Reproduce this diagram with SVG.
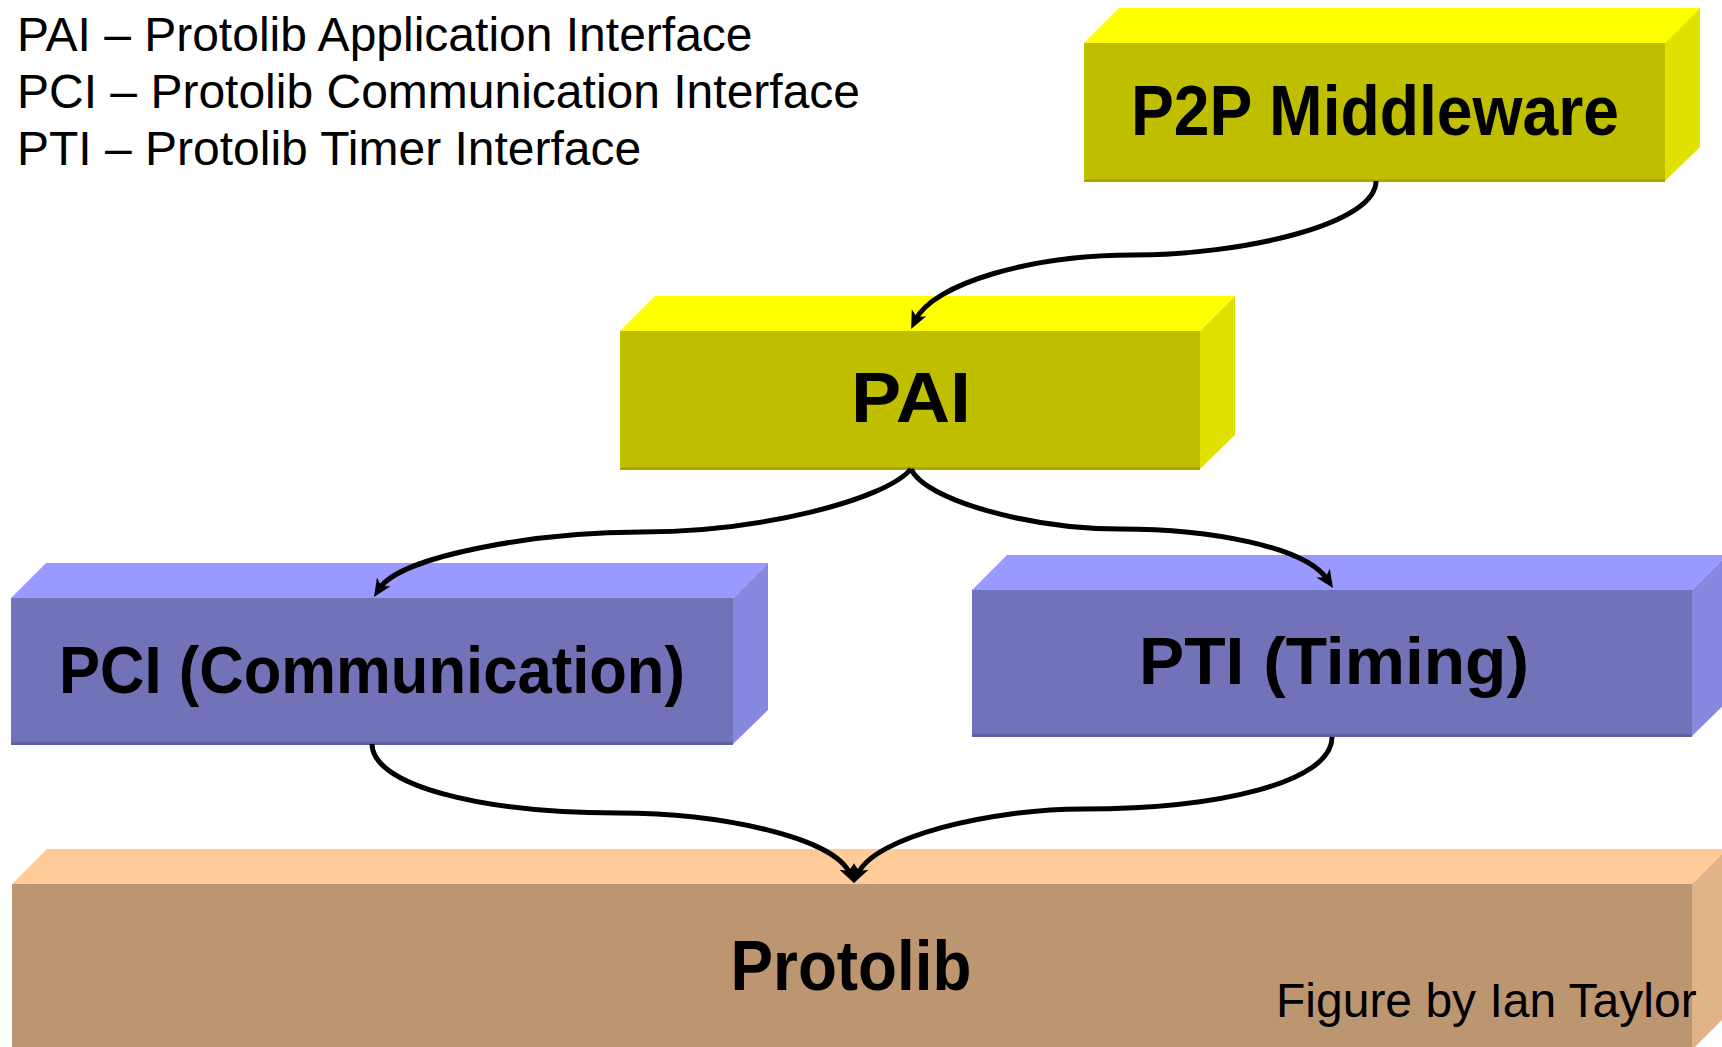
<svg xmlns="http://www.w3.org/2000/svg" width="1722" height="1047" viewBox="0 0 1722 1047">
<style>
.legend{font-family:"Liberation Sans",Arial,sans-serif;font-size:48px;fill:#000}
.lbl{font-family:"Comic Sans MS","Liberation Sans",Arial,sans-serif;font-weight:bold;fill:#000;text-anchor:middle}
.conn{fill:none;stroke:#000;stroke-width:5;marker-end:url(#ah)}
.yf{fill:#BFBF00}.yt{fill:#FFFF00}.ys{fill:#E1E100}.yb{fill:#A8A800}
.bf{fill:#7272B9}.bt{fill:#9999FF}.bs{fill:#8888E0}.bb{fill:#6060A4}
.rf{fill:#BC9670}.rt{fill:#FFCC99}.rs{fill:#E0B488}
</style>
<defs>
<marker id="ah" markerUnits="userSpaceOnUse" orient="auto" overflow="visible" markerWidth="1" markerHeight="1" refX="0" refY="0">
<path d="M10,0 L-8,-8 L-3,0 L-8,8 Z" fill="#000"/>
</marker>
</defs>
<rect width="1722" height="1047" fill="#fff"/>

<text class="legend" x="17" y="51">PAI – Protolib Application Interface</text>
<text class="legend" x="17" y="108">PCI – Protolib Communication Interface</text>
<text class="legend" x="17" y="165">PTI – Protolib Timer Interface</text>

<g id="node-p2p">
<polygon class="yt" points="1084,43 1119,8 1700,8 1665,43"/>
<polygon class="ys" points="1665,43 1700,8 1700,147 1665,181"/>
<rect class="yf" x="1084" y="43" width="581" height="138"/>
<rect class="yb" x="1084" y="179" width="581" height="3"/>
<text class="lbl" x="1375" y="135" font-size="70" textLength="488" lengthAdjust="spacingAndGlyphs">P2P Middleware</text>
</g>

<g id="node-pai">
<polygon class="yt" points="620,331 655,296 1235,296 1200,331"/>
<polygon class="ys" points="1200,331 1235,296 1235,435 1200,469"/>
<rect class="yf" x="620" y="331" width="580" height="138"/>
<rect class="yb" x="620" y="467" width="580" height="3"/>
<text class="lbl" x="911" y="422" font-size="70" textLength="120" lengthAdjust="spacingAndGlyphs">PAI</text>
</g>

<g id="node-pci">
<polygon class="bt" points="11,598 46,563 768,563 733,598"/>
<polygon class="bs" points="733,598 768,563 768,710 733,744"/>
<rect class="bf" x="11" y="598" width="722" height="146"/>
<rect class="bb" x="11" y="742" width="722" height="3"/>
<text class="lbl" x="372" y="693" font-size="66" textLength="626" lengthAdjust="spacingAndGlyphs">PCI (Communication)</text>
</g>

<g id="node-pti">
<polygon class="bt" points="972,590 1007,555 1727,555 1692,590"/>
<polygon class="bs" points="1692,590 1727,555 1727,702 1692,736"/>
<rect class="bf" x="972" y="590" width="720" height="146"/>
<rect class="bb" x="972" y="734" width="720" height="3"/>
<text class="lbl" x="1334" y="684" font-size="66" textLength="390" lengthAdjust="spacingAndGlyphs">PTI (Timing)</text>
</g>

<g id="node-protolib">
<polygon class="rt" points="12,884 47,849 1727,849 1692,884"/>
<polygon class="rs" points="1692,884 1727,849 1727,1015 1692,1050"/>
<rect class="rf" x="12" y="884" width="1680" height="170"/>
<text class="lbl" x="851" y="990" font-size="70" textLength="241" lengthAdjust="spacingAndGlyphs">Protolib</text>
</g>

<text class="legend" x="1276" y="1017">Figure by Ian Taylor</text>

<g id="connectors">
<path class="conn" d="M1376,181 C1376,225 1240,255 1133,255 C1030,255 933,284 915.5,320"/>
<path class="conn" d="M911,469 C885,500 760,532 641,532 C540,532 401,555 379.4,588.6"/>
<path class="conn" d="M911,469 C925,500 1030,529 1120,529 C1210,529 1305.5,546.5 1327.5,579.7"/>
<path class="conn" d="M372,744 C372,785 480,813 618,813 C720,813 834,837 850,873.8"/>
<path class="conn" d="M1332,737 C1332,782 1220,809 1083,809 C990,809 874,837 858,873.8"/>
</g>
</svg>
